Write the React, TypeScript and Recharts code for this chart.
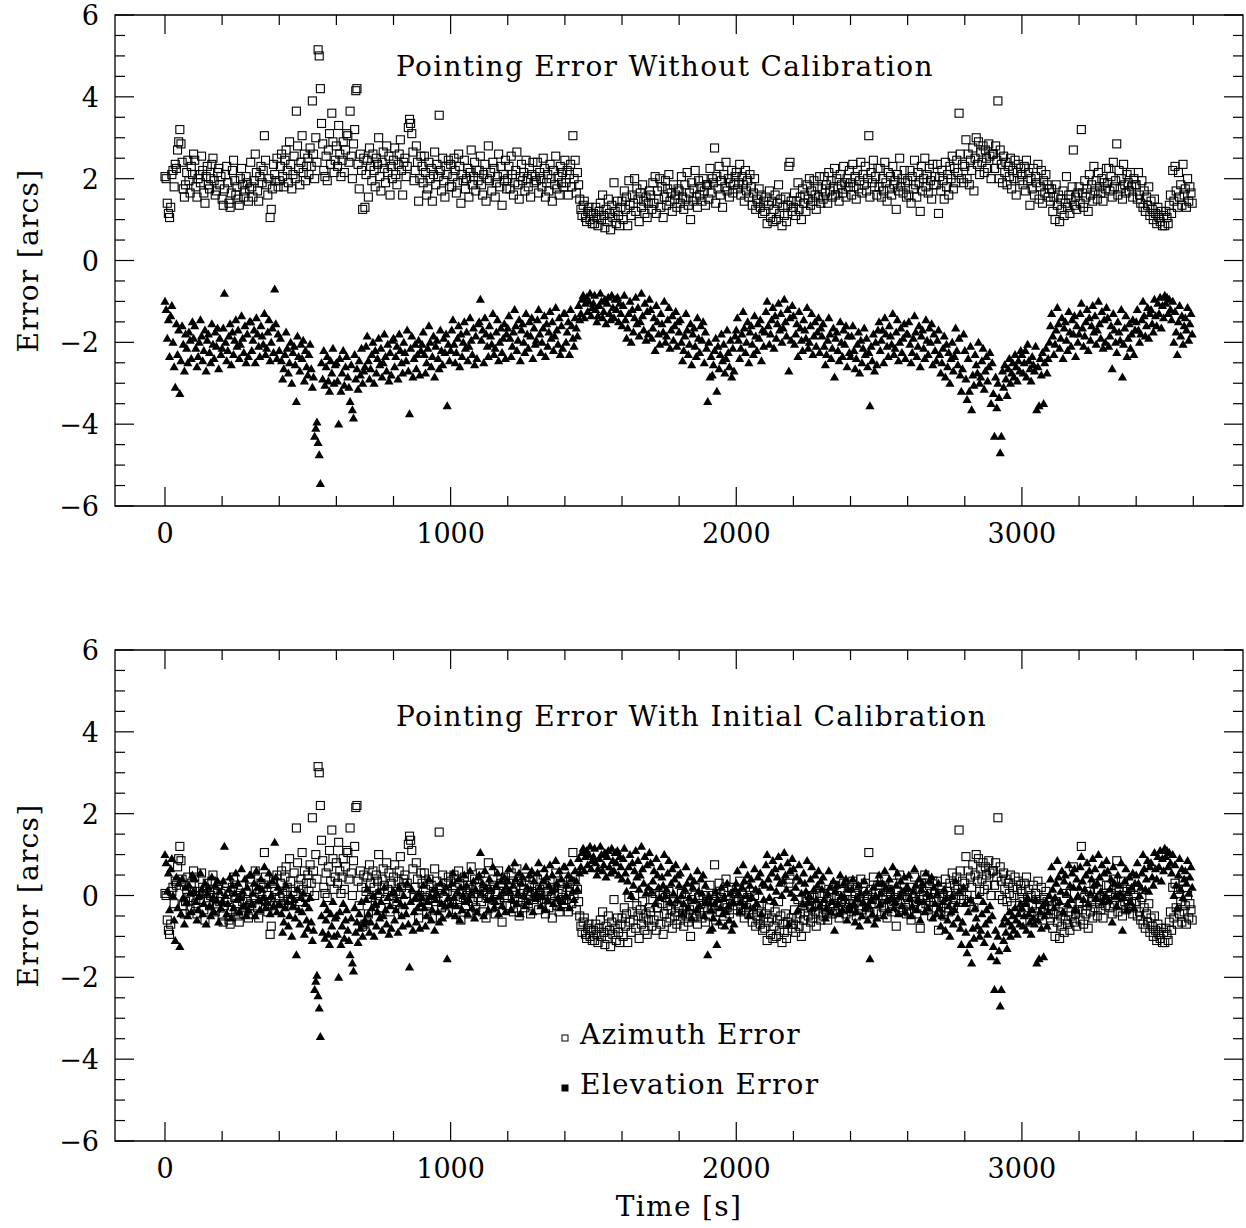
import React from 'react';
import { ScatterChart, Scatter, XAxis, YAxis, ReferenceArea, Legend } from 'recharts';

// ---------------- DATA ----------------
// Sampling interval of the pointing log, seconds
const SAMPLE_INTERVAL_S = 4;

// Azimuth pointing error without calibration [arcsec], one row = 100 s (25 samples)
const AZ_ERROR_UNCAL: number[] = [
  2.05, 2.0, 1.4, 1.15, 1.05, 1.3, 2.1, 2.2, 1.8, 2.35, 2.25, 2.7, 2.9, 3.2, 2.85, 2.4, 1.75, 1.55, 1.85, 2.15, 2.45, 1.95, 1.65, 2.3, 2.1,
  2.6, 2.45, 1.8, 1.55, 2.0, 2.1, 1.9, 2.55, 2.2, 1.65, 1.4, 2.05, 2.3, 1.85, 1.75, 2.0, 2.35, 2.5, 1.95, 1.6, 1.7, 2.15, 2.25, 1.85, 2.05,
  1.5, 1.35, 1.75, 2.1, 2.3, 1.9, 1.4, 1.3, 1.65, 2.2, 2.45, 1.95, 1.6, 1.8, 1.5, 1.35, 2.0, 2.25, 1.85, 1.55, 1.7, 2.05, 1.9, 1.45, 1.75,
  2.4, 1.8, 1.55, 1.95, 2.6, 2.15, 1.7, 1.45, 2.05, 2.3, 1.9, 2.2, 3.05, 2.45, 1.85, 1.6, 2.0, 1.05, 1.25, 1.75, 2.35, 2.1, 1.95, 2.5, 1.8,
  1.95, 2.3, 2.6, 2.05, 1.8, 2.45, 2.7, 2.2, 1.9, 2.9, 2.35, 1.75, 2.1, 2.55, 2.0, 3.65, 2.8, 2.25, 1.85, 2.4, 3.05, 2.15, 2.6, 1.95, 2.3,
  2.5, 2.1, 2.75, 2.3, 3.9, 2.6, 2.0, 3.0, 2.4, 5.15, 5.0, 4.2, 3.35, 2.85, 2.2, 2.05, 2.55, 1.95, 2.7, 3.1, 2.35, 3.6, 2.9, 2.15, 2.45,
  2.8, 2.3, 3.3, 2.6, 2.05, 2.45, 2.9, 2.15, 2.7, 3.1, 3.05, 2.4, 3.65, 2.55, 2.0, 2.85, 3.2, 4.15, 4.2, 2.35, 1.75, 2.6, 2.2, 1.25, 2.5,
  1.3, 2.1, 2.45, 1.55, 2.75, 2.3, 1.95, 2.6, 2.2, 1.8, 2.5, 2.35, 3.0, 2.05, 1.7, 2.4, 2.65, 2.25, 1.9, 2.8, 2.15, 2.55, 1.6, 2.3, 2.0,
  2.45, 2.75, 2.1, 1.85, 2.35, 2.6, 2.95, 2.2, 1.6, 2.4, 2.5, 2.05, 2.3, 3.25, 3.45, 3.35, 3.1, 2.65, 1.95, 2.2, 2.8, 2.4, 1.45, 2.0, 2.55,
  2.3, 1.9, 2.55, 2.15, 1.6, 1.75, 2.4, 2.0, 2.25, 1.45, 2.1, 2.65, 1.85, 2.35, 2.05, 3.55, 2.2, 1.7, 2.5, 1.95, 1.55, 2.3, 2.1, 2.45, 1.8,
  2.35, 1.8, 2.05, 2.5, 2.2, 1.65, 1.9, 2.6, 2.3, 1.4, 2.1, 1.95, 2.45, 1.75, 2.0, 2.25, 1.55, 2.15, 2.7, 1.85, 2.05, 2.4, 1.7, 2.2, 1.95,
  2.2, 2.55, 1.85, 1.6, 2.1, 2.35, 1.45, 2.0, 2.8, 1.95, 2.15, 1.7, 2.4, 2.25, 1.55, 1.9, 2.05, 2.6, 1.8, 2.3, 1.35, 2.1, 1.95, 2.45, 1.75,
  2.0, 2.3, 1.75, 2.55, 2.1, 1.6, 1.9, 2.2, 2.65, 1.85, 1.5, 2.05, 2.35, 1.95, 2.15, 1.7, 2.45, 2.0, 1.8, 2.25, 1.55, 2.1, 2.4, 1.9, 2.05,
  1.95, 2.4, 1.65, 2.15, 2.0, 1.8, 2.5, 2.25, 1.55, 1.9, 2.1, 1.7, 2.35, 2.0, 1.45, 2.2, 1.85, 2.55, 1.75, 2.05, 1.6, 2.3, 1.9, 2.15, 1.8,
  2.45, 1.9, 2.2, 1.6, 2.1, 2.35, 1.8, 3.05, 2.0, 2.45, 1.65, 2.15, 1.85, 1.5, 1.25, 1.1, 1.35, 1.45, 1.05, 0.95, 1.2, 1.3, 1.0, 1.15, 0.9,
  1.15, 0.9, 1.3, 1.05, 0.85, 1.2, 1.4, 1.0, 1.6, 1.1, 0.8, 1.25, 0.95, 1.5, 1.15, 0.75, 1.35, 1.05, 1.9, 1.2, 0.9, 1.45, 1.1, 0.85, 1.3,
  1.45, 1.0, 1.7, 1.25, 1.55, 0.85, 1.95, 1.35, 1.1, 1.6, 1.4, 2.0, 1.2, 1.75, 1.5, 0.95, 1.65, 1.3, 1.85, 1.45, 1.15, 1.55, 1.05, 1.4, 1.7,
  1.6, 1.25, 1.9, 1.4, 2.05, 1.15, 1.7, 1.5, 2.0, 1.3, 1.8, 1.05, 1.55, 1.95, 1.35, 1.75, 2.1, 1.45, 1.65, 1.2, 1.85, 1.5, 1.6, 1.3, 1.75,
  1.7, 1.4, 2.05, 1.55, 1.25, 1.85, 1.5, 2.15, 1.35, 1.65, 1.0, 1.9, 1.45, 1.75, 2.2, 1.55, 1.3, 1.95, 1.6, 1.8, 1.45, 2.0, 1.7, 1.35, 1.85,
  1.85, 1.5, 2.25, 1.65, 2.0, 1.9, 2.75, 1.4, 2.05, 1.75, 2.3, 1.6, 1.95, 1.3, 2.1, 1.8, 2.4, 1.7, 2.0, 1.55, 1.9, 2.2, 1.65, 1.85, 2.05,
  2.15, 1.75, 1.9, 2.35, 1.6, 2.05, 1.85, 1.45, 2.2, 1.7, 1.95, 1.55, 2.1, 1.8, 1.35, 1.65, 2.0, 1.25, 1.5, 1.4, 1.75, 1.3, 1.6, 1.15, 1.45,
  1.2, 1.55, 0.9, 1.35, 1.7, 1.05, 1.45, 0.95, 1.25, 1.6, 1.0, 1.4, 1.85, 1.15, 1.5, 0.85, 1.3, 1.1, 1.55, 0.95, 1.35, 2.3, 2.4, 1.45, 1.2,
  1.3, 1.65, 1.1, 1.45, 1.9, 1.25, 1.55, 1.0, 1.75, 1.4, 1.6, 1.2, 1.85, 1.5, 2.0, 1.35, 1.7, 1.45, 1.95, 1.6, 1.25, 1.8, 1.55, 2.05, 1.4,
  1.75, 1.5, 2.05, 1.65, 1.85, 1.4, 2.15, 1.7, 1.95, 1.55, 1.8, 2.25, 1.6, 2.0, 1.75, 1.45, 2.1, 1.85, 1.65, 2.3, 1.9, 1.55, 2.0, 1.8, 2.2,
  1.9, 1.6, 2.35, 1.8, 2.05, 1.5, 2.2, 1.75, 1.95, 2.4, 1.65, 2.1, 1.85, 2.3, 1.7, 2.0, 3.05, 1.55, 2.15, 1.9, 2.45, 1.8, 2.05, 1.6, 2.25,
  1.8, 2.25, 1.55, 2.0, 1.7, 2.4, 1.9, 1.45, 2.15, 1.75, 2.05, 1.6, 2.3, 1.85, 1.95, 1.25, 2.1, 1.7, 2.5, 1.8, 2.0, 1.65, 2.2, 1.9, 1.55,
  1.95, 1.6, 2.2, 1.4, 2.05, 1.75, 2.45, 1.85, 1.55, 2.15, 1.9, 1.2, 2.3, 1.7, 2.0, 2.5, 1.8, 2.1, 1.65, 2.25, 1.95, 1.5, 2.35, 1.85, 2.05,
  1.85, 2.35, 1.15, 2.05, 1.7, 2.2, 1.95, 1.5, 2.4, 1.8, 2.1, 1.6, 2.3, 2.0, 2.55, 1.75, 2.25, 1.9, 2.45, 2.15, 3.6, 2.6, 2.0, 2.35, 1.9,
  2.3, 2.95, 2.0, 2.6, 1.85, 2.45, 2.2, 2.75, 1.7, 2.5, 3.0, 2.35, 2.9, 2.1, 2.65, 2.4, 2.8, 2.15, 2.7, 2.5, 2.25, 2.85, 2.55, 2.0, 2.6,
  2.6, 2.25, 2.8, 2.45, 3.9, 2.0, 2.7, 2.35, 1.9, 2.55, 2.15, 2.4, 1.85, 2.3, 2.05, 2.5, 1.75, 2.2, 2.0, 2.45, 1.6, 2.15, 2.35, 1.95, 2.25,
  2.1, 1.85, 2.3, 1.7, 2.45, 1.95, 2.15, 1.35, 2.0, 1.75, 2.25, 1.6, 2.05, 1.9, 2.35, 1.5, 1.8, 2.2, 1.4, 1.95, 1.65, 2.1, 1.85, 1.55, 1.75,
  1.45, 1.75, 1.2, 1.55, 1.0, 1.85, 1.35, 1.6, 0.95, 1.5, 1.25, 1.7, 1.1, 1.4, 2.05, 1.3, 1.6, 1.15, 1.5, 1.8, 2.7, 1.35, 1.55, 1.25, 1.65,
  1.8, 1.4, 3.2, 1.65, 1.3, 1.95, 1.55, 1.75, 1.2, 2.1, 1.6, 1.85, 1.45, 2.3, 1.7, 1.95, 1.5, 2.15, 1.8, 1.65, 2.0, 1.45, 1.9, 1.75, 2.25,
  1.9, 2.25, 1.7, 2.05, 1.55, 2.4, 1.8, 1.95, 2.85, 1.6, 2.2, 1.75, 2.0, 1.5, 2.35, 1.85, 1.65, 2.1, 1.9, 1.7, 2.15, 1.8, 1.55, 2.0, 1.85,
  1.85, 1.5, 2.15, 1.6, 1.4, 1.95, 1.3, 1.7, 1.2, 1.55, 1.35, 1.8, 1.1, 1.45, 1.25, 1.0, 1.5, 1.15, 0.9, 1.3, 1.05, 0.95, 1.2, 0.85, 1.1,
  0.85, 1.2, 1.05, 0.9, 1.35, 1.6, 1.15, 2.2, 1.45, 2.3, 1.7, 1.3, 2.15, 1.55, 1.85, 1.35, 2.35, 1.6, 1.75, 1.3, 2.0, 1.45, 1.8, 1.65, 1.4,
];

// Elevation pointing error without calibration [arcsec], one row = 100 s (25 samples)
const EL_ERROR_UNCAL: number[] = [
  -1.0, -1.2, -1.9, -1.45, -2.35, -1.35, -1.1, -2.0, -2.6, -3.1, -1.55, -2.3, -1.7, -3.25, -2.45, -1.6, -2.05, -2.7, -1.8, -2.15, -2.5, -1.75, -1.95, -2.4, -1.5,
  -1.9, -1.6, -2.15, -2.6, -2.35, -2.0, -1.45, -1.85, -2.45, -2.2, -1.7, -2.7, -1.95, -1.8, -2.25, -2.5, -1.55, -2.05, -2.4, -1.75, -2.1, -1.65, -2.65, -1.9, -2.3,
  -2.15, -1.65, -0.8, -2.0, -2.45, -2.2, -1.85, -1.55, -2.55, -1.75, -2.3, -1.95, -1.45, -2.1, -1.7, -2.4, -2.05, -1.35, -1.9, -2.25, -1.6, -2.5, -1.8, -2.35, -1.5,
  -1.5, -2.2, -1.95, -1.7, -2.5, -1.4, -1.8, -2.1, -2.35, -1.6, -1.85, -2.05, -1.3, -2.3, -2.15, -1.75, -1.45, -2.45, -2.0, -1.65, -2.25, -0.7, -1.55, -2.4, -1.8,
  -2.2, -1.9, -2.45, -2.9, -2.65, -2.3, -1.75, -2.15, -2.75, -2.5, -2.0, -3.0, -2.25, -2.1, -2.55, -3.45, -1.85, -2.35, -2.7, -2.05, -2.4, -1.95, -2.95, -2.2, -2.6,
  -2.8, -2.3, -2.05, -2.65, -3.1, -2.85, -4.3, -4.1, -3.95, -4.45, -4.75, -5.45, -2.5, -2.9, -2.2, -3.05, -2.6, -2.35, -2.95, -3.2, -2.45, -2.75, -2.15, -3.0, -2.55,
  -2.5, -2.95, -4.0, -2.4, -3.2, -2.75, -2.2, -3.05, -2.6, -2.35, -2.85, -3.1, -3.45, -2.55, -3.65, -3.85, -2.3, -2.9, -2.65, -3.15, -2.45, -2.8, -2.15, -3.0, -2.7,
  -2.6, -2.1, -1.85, -2.45, -2.9, -2.65, -2.3, -2.0, -3.0, -2.2, -2.75, -2.4, -1.9, -2.55, -2.15, -2.85, -2.5, -1.8, -2.35, -2.7, -2.05, -2.95, -2.25, -2.8, -1.95,
  -1.9, -2.6, -2.35, -2.1, -2.9, -1.8, -2.2, -2.5, -2.75, -2.0, -2.25, -2.45, -1.7, -2.7, -3.75, -2.15, -1.85, -2.85, -2.4, -2.05, -2.65, -2.3, -1.95, -2.8, -2.2,
  -2.05, -1.75, -2.3, -2.75, -2.5, -2.15, -1.6, -2.0, -2.6, -2.35, -1.85, -2.85, -2.1, -1.95, -2.4, -2.65, -1.7, -2.2, -2.55, -1.9, -2.25, -1.8, -3.55, -2.05, -2.45,
  -2.2, -1.7, -1.45, -2.05, -2.5, -2.25, -1.9, -1.6, -2.6, -1.8, -2.35, -2.0, -1.5, -2.15, -1.75, -2.45, -2.1, -1.4, -1.95, -2.3, -1.65, -2.55, -1.85, -2.4, -1.55,
  -1.5, -0.95, -1.95, -1.7, -2.5, -1.4, -1.8, -2.1, -2.35, -1.6, -1.85, -2.05, -1.3, -2.3, -2.15, -1.75, -1.45, -2.45, -2.0, -1.65, -2.25, -1.9, -1.55, -2.4, -1.8,
  -1.65, -1.35, -1.9, -2.35, -2.1, -1.75, -1.2, -1.6, -2.2, -1.95, -1.45, -2.45, -1.7, -1.55, -2.0, -2.25, -1.3, -1.8, -2.15, -1.5, -1.85, -1.4, -2.4, -1.65, -2.05,
  -1.95, -1.45, -1.2, -1.8, -2.25, -2.0, -1.65, -1.35, -2.35, -1.55, -2.1, -1.75, -1.25, -1.9, -1.5, -2.2, -1.85, -1.15, -1.7, -2.05, -1.4, -2.3, -1.6, -2.15, -1.3,
  -1.3, -2.0, -1.75, -1.5, -2.3, -1.2, -1.6, -1.9, -2.1, -1.4, -1.65, -1.85, -1.1, -1.45, -1.3, -0.95, -0.85, -1.4, -1.05, -0.9, -1.25, -1.0, -0.8, -1.35, -1.15,
  -1.05, -0.85, -1.2, -1.5, -1.35, -1.1, -0.8, -1.0, -1.4, -1.25, -0.95, -1.55, -1.05, -0.9, -1.3, -1.45, -0.85, -1.15, -1.4, -0.95, -1.2, -0.9, -1.5, -1.05, -1.3,
  -1.6, -1.1, -0.85, -1.45, -1.9, -1.65, -1.3, -1.0, -2.0, -1.2, -1.75, -1.4, -0.9, -1.55, -1.15, -1.85, -1.5, -0.8, -1.35, -1.7, -1.05, -1.95, -1.25, -1.8, -0.95,
  -1.2, -1.9, -1.65, -1.4, -2.2, -1.1, -1.5, -1.8, -2.05, -1.3, -1.55, -1.75, -1.0, -2.0, -1.85, -1.45, -1.15, -2.15, -1.7, -1.35, -1.95, -1.6, -1.25, -2.1, -1.5,
  -1.75, -1.45, -2.0, -2.45, -2.2, -1.85, -1.3, -1.7, -2.3, -2.05, -1.55, -2.55, -1.8, -1.65, -2.1, -2.35, -1.4, -1.9, -2.25, -1.6, -1.95, -1.5, -2.5, -1.75, -2.15,
  -3.45, -2.0, -2.85, -2.35, -2.8, -2.55, -2.2, -1.9, -3.2, -2.1, -2.65, -2.3, -1.8, -2.45, -2.05, -2.75, -2.4, -1.7, -2.25, -2.6, -1.95, -2.85, -2.15, -2.7, -1.85,
  -1.7, -1.4, -1.95, -2.4, -2.15, -1.8, -1.25, -1.65, -2.25, -2.0, -1.5, -2.5, -1.75, -1.6, -2.05, -2.3, -1.35, -1.85, -2.2, -1.55, -1.9, -1.45, -2.45, -1.7, -2.1,
  -1.75, -1.25, -1.0, -1.6, -2.05, -1.8, -1.45, -1.15, -2.15, -1.35, -1.9, -1.55, -1.05, -1.7, -1.3, -2.0, -1.65, -0.95, -1.5, -1.85, -1.2, -2.7, -1.4, -1.95, -1.1,
  -1.35, -2.05, -1.8, -1.55, -2.35, -1.25, -1.65, -1.95, -2.2, -1.45, -1.7, -1.9, -1.15, -2.15, -2.0, -1.6, -1.3, -2.3, -1.85, -1.5, -2.1, -1.75, -1.4, -2.25, -1.65,
  -1.85, -1.55, -2.1, -2.55, -2.3, -1.95, -1.4, -1.8, -2.4, -2.15, -1.65, -2.85, -1.9, -1.75, -2.2, -2.45, -1.5, -2.0, -2.35, -1.7, -2.05, -1.6, -2.6, -1.85, -2.25,
  -2.35, -1.85, -1.6, -2.2, -2.65, -2.4, -2.05, -1.75, -2.75, -1.95, -2.5, -2.15, -1.65, -2.3, -1.9, -2.6, -2.25, -3.55, -2.1, -2.45, -1.8, -2.7, -2.0, -2.55, -1.7,
  -1.5, -2.2, -1.95, -1.7, -2.5, -1.4, -1.8, -2.1, -2.35, -1.6, -1.85, -2.05, -1.3, -2.3, -2.15, -1.75, -1.45, -2.45, -2.0, -1.65, -2.25, -1.9, -1.55, -2.4, -1.8,
  -1.8, -1.5, -2.05, -2.5, -2.25, -1.9, -1.35, -1.75, -2.35, -2.1, -1.6, -2.6, -1.85, -1.7, -2.15, -2.4, -1.45, -1.95, -2.3, -1.65, -2.0, -1.55, -2.55, -1.8, -2.2,
  -2.45, -1.95, -1.7, -2.3, -2.75, -2.5, -2.15, -1.85, -2.85, -2.05, -2.6, -2.25, -3.0, -2.4, -2.0, -2.7, -2.35, -1.65, -2.2, -2.55, -1.9, -2.8, -3.2, -2.65, -1.8,
  -2.2, -2.9, -3.4, -2.4, -3.2, -2.1, -3.65, -2.8, -3.05, -2.3, -2.55, -2.75, -2.0, -3.0, -2.85, -2.45, -2.15, -3.15, -2.7, -2.35, -2.95, -2.6, -2.25, -3.5, -2.5,
  -3.25, -4.3, -2.85, -3.6, -3.0, -3.35, -4.7, -4.3, -2.7, -3.1, -2.55, -2.9, -3.3, -2.65, -2.4, -3.0, -2.75, -2.5, -2.85, -2.3, -2.6, -2.95, -2.45, -2.7, -2.2,
  -2.3, -2.75, -2.5, -2.2, -2.85, -2.05, -2.45, -2.65, -2.95, -2.35, -2.55, -2.7, -2.1, -3.65, -2.6, -3.55, -2.4, -2.8, -2.25, -3.5, -2.5, -2.15, -2.75, -2.4, -2.0,
  -1.6, -1.3, -1.85, -2.3, -2.05, -1.7, -1.15, -1.55, -2.15, -1.9, -1.4, -2.4, -1.65, -1.5, -1.95, -2.2, -1.25, -1.75, -2.1, -1.45, -1.8, -1.35, -2.35, -1.6, -2.0,
  -1.8, -1.3, -1.05, -1.65, -2.1, -1.85, -1.5, -1.2, -2.2, -1.4, -1.95, -1.6, -1.1, -1.75, -1.35, -2.05, -1.7, -1.0, -1.55, -1.9, -1.25, -2.15, -1.45, -2.0, -1.15,
  -1.4, -2.1, -1.85, -1.6, -2.65, -1.3, -1.7, -2.0, -2.25, -1.5, -1.75, -1.95, -1.2, -2.85, -2.05, -1.65, -1.35, -2.35, -1.9, -1.55, -2.15, -1.8, -1.45, -2.3, -1.7,
  -1.5, -1.2, -1.7, -2.0, -1.8, -1.45, -1.0, -1.35, -1.85, -1.6, -1.15, -1.9, -1.3, -1.2, -1.55, -1.75, -0.95, -1.35, -1.6, -1.05, -1.3, -0.9, -1.65, -1.1, -1.4,
  -0.85, -1.05, -0.9, -1.3, -0.95, -1.2, -1.45, -1.0, -2.0, -1.25, -1.75, -2.3, -1.5, -1.1, -1.85, -1.35, -2.05, -1.6, -1.4, -1.7, -1.15, -1.95, -1.55, -1.3, -1.8,
];

// Constant offsets removed by the initial calibration [arcsec]
const AZ_CAL_OFFSET = 2.0;
const EL_CAL_OFFSET = -2.0;

const TITLE_TOP = 'Pointing Error Without Calibration';
const TITLE_BOTTOM = 'Pointing Error With Initial Calibration';
const SERIES_NAMES = ['Azimuth Error', 'Elevation Error'];
const X_LABEL = 'Time [s]';
const Y_LABEL = 'Error [arcs]';

const X_MIN = -175;
const X_MAX = 3774;
const Y_MIN = -6;
const Y_MAX = 6;
const X_TICKS = [0, 200, 400, 600, 800, 1000, 1200, 1400, 1600, 1800, 2000, 2200, 2400, 2600, 2800, 3000, 3200, 3400, 3600];
const X_MAJOR = [0, 1000, 2000, 3000];
const Y_TICKS = [-6, -5.5, -5, -4.5, -4, -3.5, -3, -2.5, -2, -1.5, -1, -0.5, 0, 0.5, 1, 1.5, 2, 2.5, 3, 3.5, 4, 4.5, 5, 5.5, 6];
const Y_MAJOR = [-6, -4, -2, 0, 2, 4, 6];

// ---------------- BUILD POINTS ----------------
const toPoints = (vals: number[], offset: number) =>
  vals.map((v, i) => ({ t: i * SAMPLE_INTERVAL_S, v: Math.round((v - offset) * 100) / 100 }));

const TOP_AZ = toPoints(AZ_ERROR_UNCAL, 0);
const TOP_EL = toPoints(EL_ERROR_UNCAL, 0);
const BOT_AZ = toPoints(AZ_ERROR_UNCAL, AZ_CAL_OFFSET);
const BOT_EL = toPoints(EL_ERROR_UNCAL, EL_CAL_OFFSET);

// ---------------- STYLE ----------------
const INK = '#000';
const FONT = '"DejaVu Serif", serif';
const W = 1246;
const PLOT_H = 491;
const G = { left: 115, right: 1243, top: 15, bottom: 15 + PLOT_H };

const fmt = (v: number) => (v < 0 ? '\u2212' + Math.abs(v) : String(v));

const renderXTick = (props: any) => {
  const { x, payload } = props;
  const v = payload.value;
  const major = X_MAJOR.includes(v);
  const len = major ? 19 : 10;
  return (
    <g>
      <line x1={x} x2={x} y1={G.bottom} y2={G.bottom - len} stroke={INK} strokeWidth={1.2} />
      <line x1={x} x2={x} y1={G.top} y2={G.top + len} stroke={INK} strokeWidth={1.2} />
      {major && (
        <text x={x} y={G.bottom + 37} textAnchor="middle" fontSize={27} fontFamily={FONT} fill={INK}>
          {fmt(v)}
        </text>
      )}
    </g>
  );
};

const renderYTick = (props: any) => {
  const { y, payload } = props;
  const v = payload.value;
  const major = Y_MAJOR.includes(v);
  const len = major ? 19 : 10;
  return (
    <g>
      <line x1={G.left} x2={G.left + len} y1={y} y2={y} stroke={INK} strokeWidth={1.2} />
      <line x1={G.right} x2={G.right - len} y1={y} y2={y} stroke={INK} strokeWidth={1.2} />
      {major && (
        <text x={G.left - 16} y={y + 10} textAnchor="end" fontSize={27} fontFamily={FONT} fill={INK}>
          {fmt(v)}
        </text>
      )}
    </g>
  );
};

const renderYLabel = () => {
  const cx = 38;
  const cy = (G.top + G.bottom) / 2;
  return (
    <text x={cx} y={cy} transform={`rotate(-90 ${cx} ${cy})`} textAnchor="middle" fontSize={28} letterSpacing={1.3} fontFamily={FONT} fill={INK}>
      {Y_LABEL}
    </text>
  );
};

const renderXLabel = () => (
  <text x={(G.left + G.right) / 2} y={G.bottom + 75} textAnchor="middle" fontSize={28} letterSpacing={1.3} fontFamily={FONT} fill={INK}>
    {X_LABEL}
  </text>
);

const renderSquare = (p: any) => (
  <rect x={p.cx - 4} y={p.cy - 4} width={8} height={8} fill="none" stroke={INK} strokeWidth={1.1} />
);

const renderTriangle = (p: any) => (
  <polygon points={`${p.cx},${p.cy - 4.6} ${p.cx + 4.6},${p.cy + 3.4} ${p.cx - 4.6},${p.cy + 3.4}`} fill={INK} />
);

const renderLegend = (props: any) => {
  const payload = props.payload || [];
  return (
    <svg width={300} height={100} style={{ overflow: 'visible' }}>
      {payload.map((entry: any, i: number) => {
        const filled = entry.value === SERIES_NAMES[1];
        const cy = 28 + i * 50;
        return (
          <g key={entry.value}>
            <rect x={7} y={cy - 3} width={6} height={6} fill={filled ? INK : 'none'} stroke={INK} strokeWidth={1} />
            <text x={25} y={cy + 6} fontSize={28} letterSpacing={1.3} fontFamily={FONT} fill={INK}>
              {entry.value}
            </text>
          </g>
        );
      })}
    </svg>
  );
};

function Panel({ az, el, height, top, showXLabel, showLegend }: any) {
  return (
    <div style={{ position: 'absolute', left: 0, top }}>
      <ScatterChart width={W} height={height} margin={{ top: G.top, right: W - G.right, bottom: 0, left: 15 }}>
        <XAxis
          type="number"
          dataKey="t"
          domain={[X_MIN, X_MAX]}
          ticks={X_TICKS}
          interval={0}
          allowDataOverflow
          tick={renderXTick}
          tickLine={false}
          axisLine={false}
          height={height - G.bottom}
          label={showXLabel ? { content: renderXLabel } : undefined}
        />
        <YAxis
          type="number"
          dataKey="v"
          domain={[Y_MIN, Y_MAX]}
          ticks={Y_TICKS}
          interval={0}
          allowDataOverflow
          tick={renderYTick}
          tickLine={false}
          axisLine={false}
          width={G.left - 15}
          label={{ content: renderYLabel }}
        />
        <ReferenceArea x1={X_MIN} x2={X_MAX} y1={Y_MIN} y2={Y_MAX} fill="none" fillOpacity={0} stroke={INK} strokeWidth={1.3} ifOverflow="visible" />
        <Scatter name={SERIES_NAMES[0]} data={az} shape={renderSquare} isAnimationActive={false} />
        <Scatter name={SERIES_NAMES[1]} data={el} shape={renderTriangle} isAnimationActive={false} />
        {showLegend && (
          <Legend
            content={renderLegend}
            layout="vertical"
            align="center"
            verticalAlign="middle"
            wrapperStyle={{ left: 555, top: 375, width: 300, height: 100 }}
          />
        )}
      </ScatterChart>
    </div>
  );
}

export default function App() {
  return (
    <div style={{ position: 'absolute', left: 0, top: 0, width: W, height: 1228, overflow: 'hidden', background: '#fff' }}>
      <Panel az={TOP_AZ} el={TOP_EL} height={600} top={0} showXLabel={false} showLegend={false} />
      <Panel az={BOT_AZ} el={BOT_EL} height={593} top={635} showXLabel={true} showLegend={true} />
      <svg width={W} height={1228} style={{ position: 'absolute', left: 0, top: 0, pointerEvents: 'none' }}>
        <text x={396} y={76} fontSize={28} letterSpacing={1.3} fontFamily={FONT} fill={INK}>{TITLE_TOP}</text>
        <text x={396} y={726} fontSize={28} letterSpacing={1.3} fontFamily={FONT} fill={INK}>{TITLE_BOTTOM}</text>
      </svg>
    </div>
  );
}
